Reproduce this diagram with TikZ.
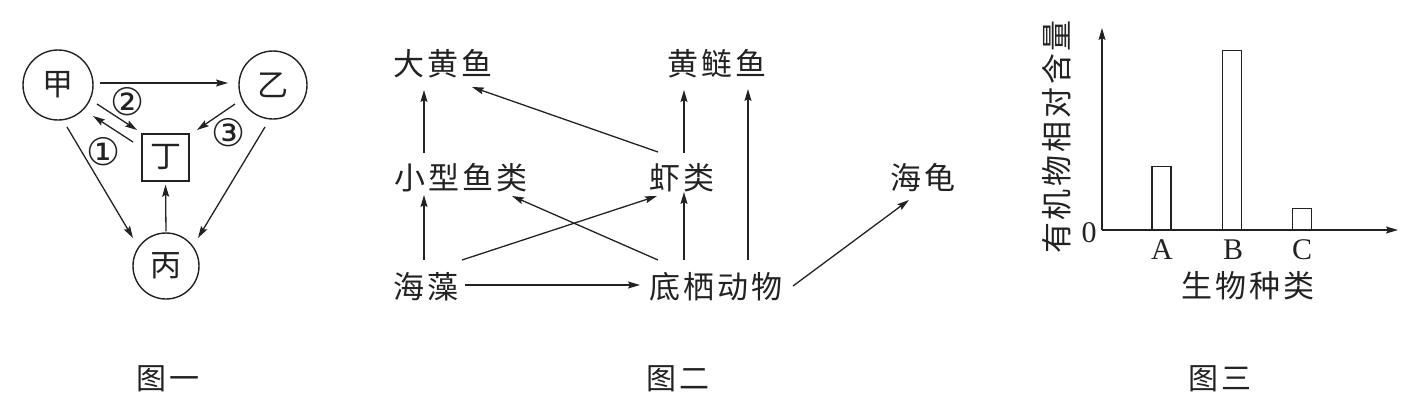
\documentclass[tikz,border=0pt]{standalone}
\usepackage{fontspec}
\usetikzlibrary{arrows.meta,calc}
\newfontfamily\cjk{Noto Sans CJK SC}
\newfontfamily\lat{Liberation Serif}
\newfontfamily\sym{DejaVu Sans}
\definecolor{ink}{HTML}{222222}
\tikzset{
  arr/.style={draw=ink,line width=1.3pt,-{Stealth[length=12pt,width=7pt,inset=2pt]}},
  circ/.style={draw=ink,line width=1.4pt,circle,inner sep=0pt,text=ink,font=\cjk\fontsize{31}{31}\selectfont},
  sqbox/.style={draw=ink,line width=1.4pt,rectangle,inner sep=0pt,minimum size=47pt,text=ink,font=\cjk\fontsize{31}{31}\selectfont},
  numtxt/.style={inner sep=0pt,text=ink,font=\sym\fontsize{38}{38}\selectfont},
  lbl/.style={inner sep=0pt,outer sep=0pt,text=ink,font=\cjk\fontsize{31}{31}\selectfont\addfontfeature{LetterSpace=9}},
  captxt/.style={inner sep=0pt,text=ink,font=\cjk\fontsize{30}{30}\selectfont\addfontfeature{LetterSpace=10}},
  latl/.style={inner sep=0pt,text=ink,font=\lat\fontsize{30}{30}\selectfont},
  barbox/.style={draw=ink,line width=1.4pt,inner sep=0pt,anchor=south,minimum width=19pt}
}
\begin{document}
\begin{tikzpicture}[x=1pt,y=-1pt]
\useasboundingbox (0,0) rectangle (1428,407);
% ---------- Figure 1 ----------
\node[circ,minimum size=70pt] (jia) at (58,85) {甲};
\node[circ,minimum size=68pt] (yi) at (273,85) {乙};
\node[circ,minimum size=66pt] (bing) at (166,266) {丙};
\node[sqbox] (ding) at (165.5,157.5) {丁};
\draw[arr] ($(jia)+(42,-2)$) -- ($(yi)+(-45,-2)$);
\draw[arr] ($(jia)+(39,19)$) -- ($(ding)+(-28.5,-27.5)$);
\draw[arr] ($(ding)+(-32.5,-15.5)$) -- ($(jia)+(35,31)$);
\draw[arr] ($(yi)+(-38,19)$) -- ($(ding)+(31.5,-27.5)$);
\draw[arr] ($(jia)+(9,42)$) -- ($(bing)+(-33,-28)$);
\draw[arr] ($(yi)+(-8,42)$) -- ($(bing)+(32,-28)$);
\draw[arr,shorten <=1pt,shorten >=3pt] (bing.north) -- (ding.south);
\node[numtxt] (n2) at (128,102) {②};
\node[numtxt] (n1) at (104,152) {①};
\node[numtxt] (n3) at (229,133) {③};
\node[captxt] (c1) at (168,379) {图一};
% ---------- Figure 2 ----------
\node[lbl] (dhy) at (443,64) {大黄鱼};
\node[lbl] (hly) at (717,64) {黄鲢鱼};
\node[lbl] (xxyl) at (461,178) {小型鱼类};
\node[lbl] (xl) at (682,178) {虾类};
\node[lbl] (hg) at (923,178) {海龟};
\node[lbl] (hz) at (426,287) {海藻};
\node[lbl] (dq) at (716,287) {底栖动物};
\draw[arr] ($(xxyl)+(-37,-25)$) -- ($(dhy)+(-19,26)$);
\draw[arr] ($(hz)+(-2,-27)$) -- ($(xxyl)+(-37,17)$);
\draw[arr] ($(hz)+(36,-27)$) -- ($(xl)+(-25,18)$);
\draw[arr] ($(hz)+(39,-2)$) -- ($(dq)+(-76,-2)$);
\draw[arr] ($(dq)+(-58,-27)$) -- ($(xxyl)+(51,18)$);
\draw[arr] ($(dq)+(-32,-27)$) -- ($(xl)+(2,14)$);
\draw[arr] ($(xl)+(2,-25)$) -- ($(hly)+(-33,26)$);
\draw[arr] ($(dq)+(32,-27)$) -- ($(hly)+(31,25)$);
\draw[arr] ($(xl)+(-24,-26)$) -- ($(dhy)+(29,23)$);
\draw[arr] ($(dq)+(77,-1)$) -- ($(hg)+(-14,22)$);
\node[captxt] (c2) at (678,379) {图二};
% ---------- Figure 3 ----------
\coordinate (O) at (1102,230);
\coordinate (ytop) at (1102,28);
\coordinate (xend) at (1398,230);
\node[barbox,minimum height=63pt] (barA) at (1161.5,230) {};
\node[barbox,minimum height=179pt] (barB) at (1232,230) {};
\node[barbox,minimum height=21pt] (barC) at (1302,230) {};
\draw[arr] (O) -- (ytop);
\draw[arr] (O) -- (xend);
\node[latl] (zero) at (1089,233) {0};
\node[latl] (la) at (1162,250) {A};
\node[latl] (lb) at (1233,250) {B};
\node[latl] (lc) at (1302,250) {C};
\node[lbl,font=\cjk\fontsize{31}{31}\selectfont\addfontfeature{LetterSpace=10}] (xlab) at (1248,286) {生物种类};
\node[lbl,rotate=90,font=\cjk\fontsize{31}{31}\selectfont\addfontfeature{LetterSpace=9}] (ylab) at (1057,137) {有机物相对含量};
\node[captxt] (c3) at (1220,379) {图三};
\end{tikzpicture}
\end{document}
